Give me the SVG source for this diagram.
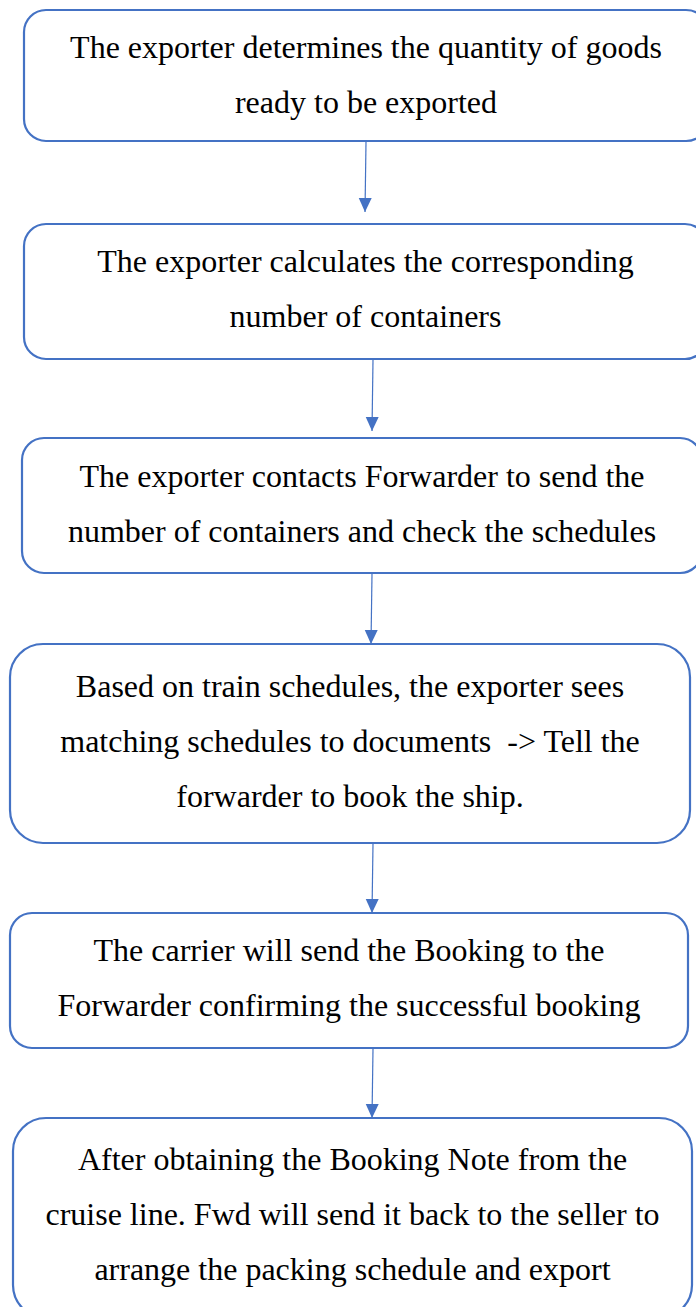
<svg xmlns="http://www.w3.org/2000/svg" width="696" height="1307" viewBox="0 0 696 1307">
<style>
.box{fill:#FFFFFF;stroke:#4472C4;stroke-width:2.2}
.t{font-family:'Liberation Serif','Times New Roman','DejaVu Serif',serif;font-size:32px;fill:#000000;text-anchor:middle}
.c{stroke:#4472C4;stroke-width:1.2;fill:none}
</style>
<defs>
<marker id="ah" markerUnits="userSpaceOnUse" markerWidth="16" markerHeight="16" viewBox="0 0 16 16" refX="14" refY="8" orient="auto">
<path d="M0,1.5 L14,8 L0,14.5 Z" fill="#4472C4"/>
</marker>
</defs>
<rect width="696" height="1307" fill="#FFFFFF"/>
<g id="connectors">
<line class="c" x1="366" y1="142" x2="365" y2="212" marker-end="url(#ah)"/>
<line class="c" x1="373" y1="360" x2="372" y2="431" marker-end="url(#ah)"/>
<line class="c" x1="372" y1="574" x2="371" y2="644" marker-end="url(#ah)"/>
<line class="c" x1="373" y1="844" x2="372" y2="913" marker-end="url(#ah)"/>
<line class="c" x1="373" y1="1049" x2="372" y2="1118" marker-end="url(#ah)"/>
</g>
<g id="n1">
<rect class="box" x="24" y="10" width="684" height="131" rx="22" ry="22"/>
<text class="t" font-family="Liberation Serif, serif" x="366" y="58">The exporter determines the quantity of goods</text>
<text class="t" font-family="Liberation Serif, serif" x="366" y="113">ready to be exported</text>
</g>
<g id="n2">
<rect class="box" x="24" y="224" width="683" height="135" rx="22" ry="22"/>
<text class="t" font-family="Liberation Serif, serif" x="365.5" y="272">The exporter calculates the corresponding</text>
<text class="t" font-family="Liberation Serif, serif" x="365.5" y="327">number of containers</text>
</g>
<g id="n3">
<rect class="box" x="22" y="438" width="680" height="135" rx="22" ry="22"/>
<text class="t" font-family="Liberation Serif, serif" x="362" y="487">The exporter contacts Forwarder to send the</text>
<text class="t" font-family="Liberation Serif, serif" x="362" y="542">number of containers and check the schedules</text>
</g>
<g id="n4">
<rect class="box" x="10" y="644" width="680" height="199" rx="33" ry="33"/>
<text class="t" font-family="Liberation Serif, serif" x="350" y="697">Based on train schedules, the exporter sees</text>
<text class="t" font-family="Liberation Serif, serif" x="350" y="752" xml:space="preserve">matching schedules to documents  -&gt; Tell the</text>
<text class="t" font-family="Liberation Serif, serif" x="350" y="807">forwarder to book the ship.</text>
</g>
<g id="n5">
<rect class="box" x="10" y="913" width="678" height="135" rx="22" ry="22"/>
<text class="t" font-family="Liberation Serif, serif" x="349" y="961">The carrier will send the Booking to the</text>
<text class="t" font-family="Liberation Serif, serif" x="349" y="1016">Forwarder confirming the successful booking</text>
</g>
<g id="n6">
<rect class="box" x="13" y="1118" width="679" height="200" rx="33" ry="33"/>
<text class="t" font-family="Liberation Serif, serif" x="352.5" y="1170">After obtaining the Booking Note from the</text>
<text class="t" font-family="Liberation Serif, serif" x="352.5" y="1225">cruise line. Fwd will send it back to the seller to</text>
<text class="t" font-family="Liberation Serif, serif" x="352.5" y="1280">arrange the packing schedule and export</text>
</g>
</svg>
